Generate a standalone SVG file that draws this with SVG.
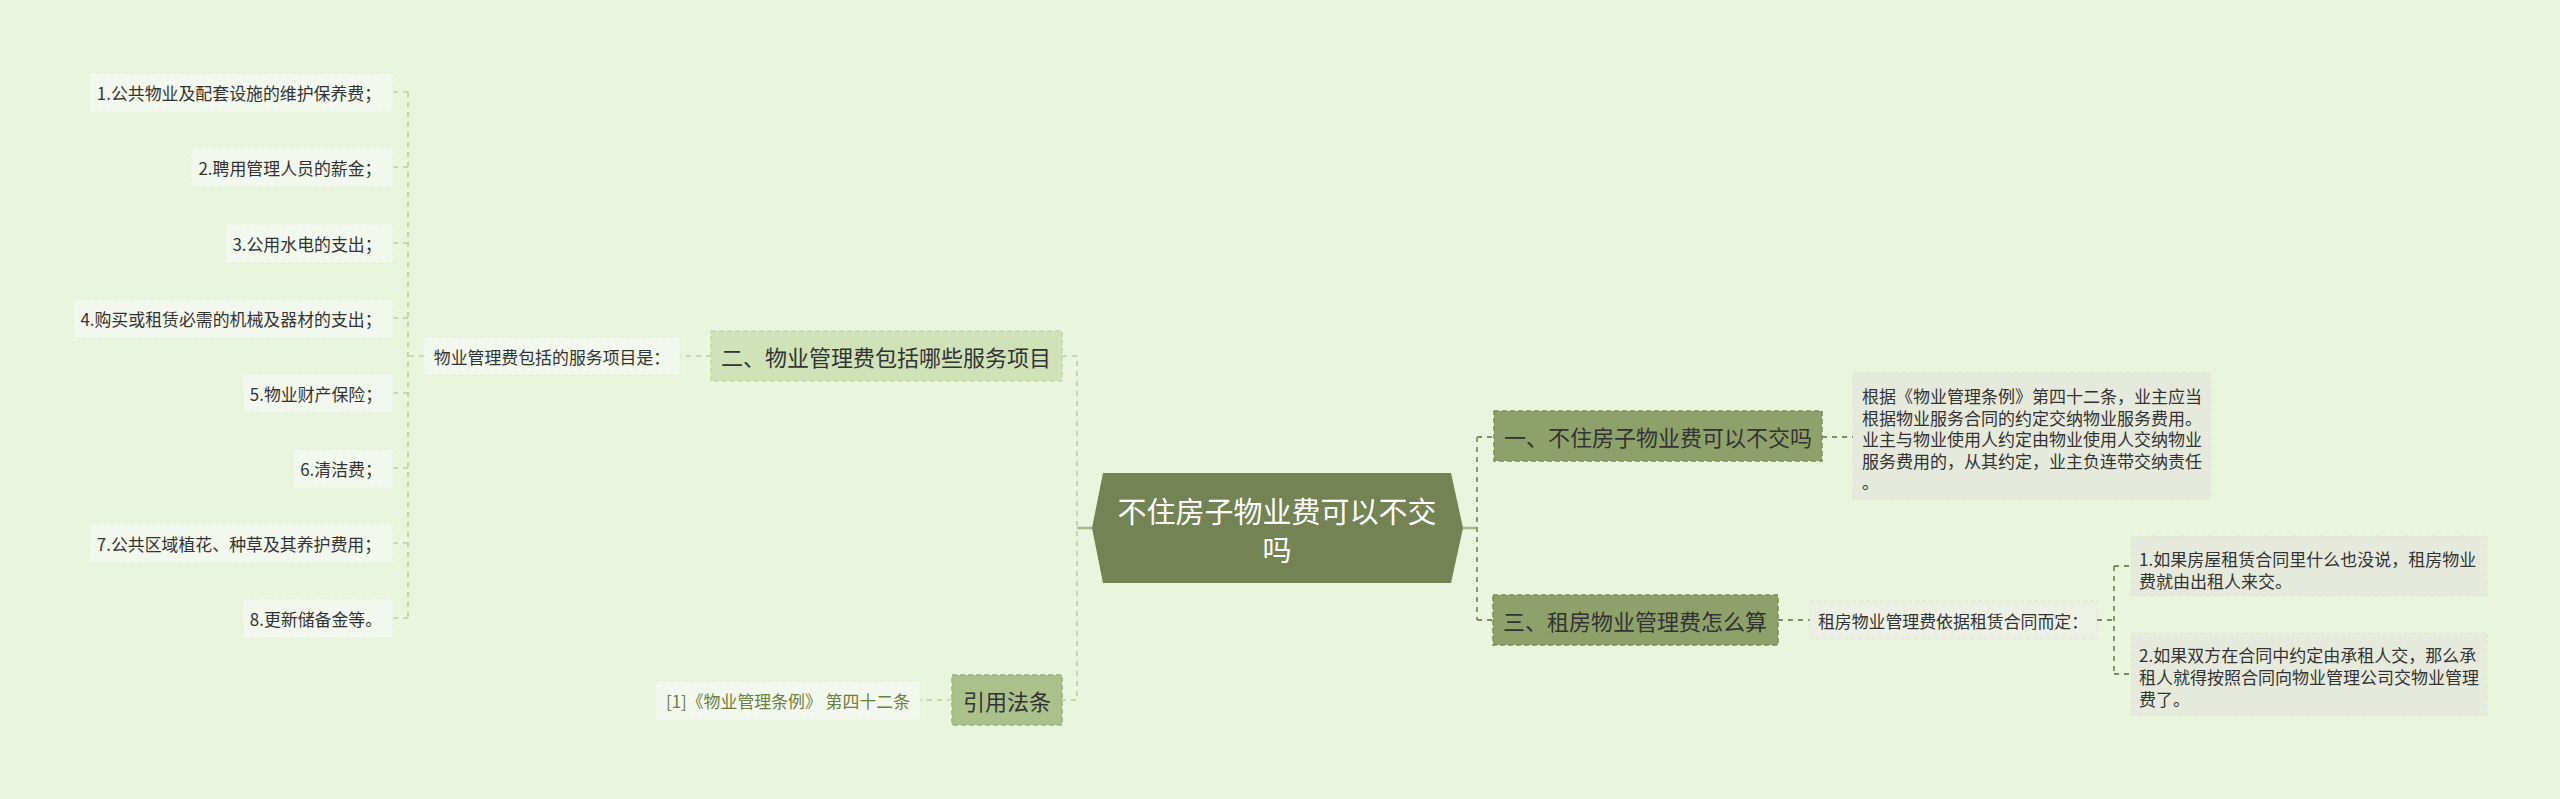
<svg xmlns="http://www.w3.org/2000/svg" width="2560" height="799" viewBox="0 0 2560 799">
<style>
text{font-family:"Noto Sans CJK SC","Noto Sans",sans-serif;dominant-baseline:central;fill:#333}
.c{text-anchor:middle}
.s{font-size:16.9px}
.r{font-size:17px}
.m{font-size:22px}
.leaf{fill:#f3f8ee;stroke:#e6eedd;stroke-width:1;stroke-dasharray:4 3}
.gray{fill:#e6eadd;stroke:#dfe4d5;stroke-width:1;stroke-dasharray:4 3}
.lc{fill:none;stroke:#b9cfa0;stroke-width:1.6;stroke-dasharray:5 5}
.rc{fill:none;stroke:#7f8f5e;stroke-width:1.8;stroke-dasharray:5 5}
.sol{fill:none;stroke:#a7b98c;stroke-width:2.5}
</style>
<rect width="2560" height="799" fill="#e9f5dd"/>
<g id="connectors">
<path class="sol" d="M1092 528H1077M1463 528H1477"/>
<path class="lc" d="M1062 356H1077V700H1062M711 356H680M424 356H408M408 92V618M393 92H408M393 167H408M393 243H408M393 318H408M393 393H408M393 468H408M393 543H408M393 618H408M952 700H920"/>
<path class="rc" d="M1477 437V620M1477 437H1493M1477 620H1493M1822 437H1853M1778 620H1810M2097 620H2114M2114 566V674M2114 566H2131M2114 674H2131"/>
</g>
<g id="center">
<polygon points="1092,528 1103,473 1451,473 1463,528 1451,583 1103,583" fill="#738353"/>
<text class="c" x="1277" y="510" style="font-size:29px;fill:#fff">不住房子物业费可以不交</text>
<text class="c" x="1277" y="548" style="font-size:29px;fill:#fff">吗</text>
</g>
<g id="n1">
<rect x="1494" y="411" width="328" height="50" fill="#8fa16b" stroke="#7b8c59" stroke-width="1.5" stroke-dasharray="5 3"/>
<text class="c m" x="1658" y="436">一、不住房子物业费可以不交吗</text>
</g>
<g id="n1-text">
<rect class="gray" x="1853" y="373" width="357" height="126"/>
<text class="r" x="1862" y="395">根据《物业管理条例》第四十二条，业主应当</text>
<text class="r" x="1862" y="417">根据物业服务合同的约定交纳物业服务费用。</text>
<text class="r" x="1862" y="438">业主与物业使用人约定由物业使用人交纳物业</text>
<text class="r" x="1862" y="460">服务费用的，从其约定，业主负连带交纳责任</text>
<text class="r" x="1862" y="481">。</text>
</g>
<g id="n3">
<rect x="1493" y="595" width="285" height="50" fill="#8fa16b" stroke="#7b8c59" stroke-width="1.5" stroke-dasharray="5 3"/>
<text class="c m" x="1635" y="620">三、租房物业管理费怎么算</text>
</g>
<g id="n3-mid">
<rect class="gray" x="1810" y="601" width="287" height="38" style="fill:#edf1e5"/>
<text class="c s" x="1953" y="620">租房物业管理费依据租赁合同而定：</text>
</g>
<g id="n3-a">
<rect class="gray" x="2131" y="536" width="356" height="60"/>
<text class="r" x="2139" y="558">1.如果房屋租赁合同里什么也没说，租房物业</text>
<text class="r" x="2139" y="580">费就由出租人来交。</text>
</g>
<g id="n3-b">
<rect class="gray" x="2131" y="633" width="356" height="82"/>
<text class="r" x="2139" y="654">2.如果双方在合同中约定由承租人交，那么承</text>
<text class="r" x="2139" y="676">租人就得按照合同向物业管理公司交物业管理</text>
<text class="r" x="2139" y="698">费了。</text>
</g>
<g id="n2">
<rect x="711" y="331" width="351" height="50" fill="#cfe2b8" stroke="#c2d7a8" stroke-width="1.5" stroke-dasharray="5 3"/>
<text class="c m" x="886" y="356">二、物业管理费包括哪些服务项目</text>
</g>
<g id="n2-mid">
<rect class="leaf" x="424" y="337" width="256" height="38"/>
<text class="c s" x="552" y="356">物业管理费包括的服务项目是：</text>
</g>
<g id="leaf1"><rect class="leaf" x="89" y="73" width="304" height="39"/><text class="c s" x="239" y="92">1.公共物业及配套设施的维护保养费；</text></g>
<g id="leaf2"><rect class="leaf" x="191" y="148" width="202" height="39"/><text class="c s" x="290" y="167">2.聘用管理人员的薪金；</text></g>
<g id="leaf3"><rect class="leaf" x="225" y="224" width="168" height="39"/><text class="c s" x="307" y="243">3.公用水电的支出；</text></g>
<g id="leaf4"><rect class="leaf" x="73" y="299" width="320" height="39"/><text class="c s" x="231" y="318">4.购买或租赁必需的机械及器材的支出；</text></g>
<g id="leaf5"><rect class="leaf" x="243" y="374" width="150" height="39"/><text class="c s" x="316" y="393">5.物业财产保险；</text></g>
<g id="leaf6"><rect class="leaf" x="293" y="449" width="100" height="39"/><text class="c s" x="341" y="468">6.清洁费；</text></g>
<g id="leaf7"><rect class="leaf" x="89" y="524" width="304" height="39"/><text class="c s" x="239" y="543">7.公共区域植花、种草及其养护费用；</text></g>
<g id="leaf8"><rect class="leaf" x="243" y="599" width="150" height="39"/><text class="c s" x="316" y="618">8.更新储备金等。</text></g>
<g id="cite">
<rect x="952" y="675" width="110" height="50" fill="#aac18c" stroke="#9bb37e" stroke-width="1.5" stroke-dasharray="5 3"/>
<text class="c m" x="1007" y="700">引用法条</text>
</g>
<g id="cite-ref">
<rect class="leaf" x="656" y="681" width="264" height="39"/>
<text class="c s" x="788" y="700" style="fill:#6b7f3f">[1]《物业管理条例》 第四十二条</text>
</g>
</svg>
